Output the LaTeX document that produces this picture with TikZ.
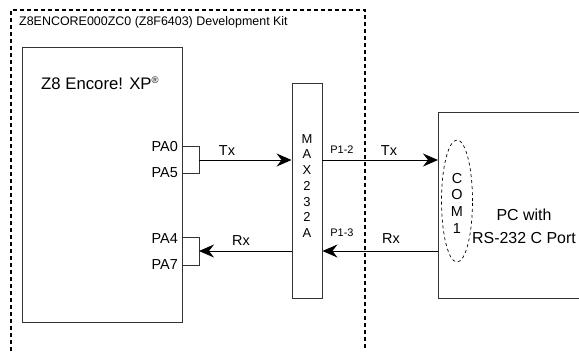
\documentclass[tikz,border=0pt]{standalone}
\usepackage{fontspec}
\setmainfont{Liberation Sans}
\usetikzlibrary{arrows.meta,shapes.geometric}
\begin{document}
\begin{tikzpicture}[x=1bp,y=-1bp,
  box/.style={draw=black!80,line width=0.9bp},
  frame/.style={draw=black,line width=1.1bp,dash pattern=on 4bp off 3bp},
  wire/.style={draw=black!80,line width=0.9bp},
  sig/.style={draw=black,line width=1bp,-{Stealth[length=15bp,width=13bp,inset=5bp]}},
  lbl/.style={inner sep=0pt,font=\fontsize{14.5}{16}\selectfont},
  small/.style={inner sep=0pt,font=\fontsize{11}{12}\selectfont},
  stack/.style={inner sep=0pt,font=\fontsize{13}{15.8}\selectfont,align=center}]
\useasboundingbox (0,0) rectangle (579,351);
% dashed development kit frame
\draw[frame] (11,351) -- (11,10) -- (365,10) -- (365,351);
\node[small,anchor=west,font=\fontsize{12.5}{14}\selectfont] (title) at (19,22) {Z8ENCORE000ZC0 (Z8F6403) Development Kit};
% Z8 box
\draw[box] (22,47) rectangle (182,322);
\node[lbl,anchor=west,font=\fontsize{16.8}{18}\selectfont] (z8) at (41,83) {Z8 Encore! XP\textsuperscript{\fontsize{9.5}{10}\selectfont ®}};
\node[lbl,anchor=east] (pa0) at (178,147) {PA0};
\node[lbl,anchor=east] (pa5) at (178,173) {PA5};
\node[lbl,anchor=east] (pa4) at (178,239) {PA4};
\node[lbl,anchor=east] (pa7) at (178,265) {PA7};
% brackets
\coordinate (b0) at (182,146);
\coordinate (b5) at (182,173);
\coordinate (b4) at (182,237);
\coordinate (b7) at (182,265);
\draw[wire] (b0) -| (199,173) -- (b5);
\draw[wire] (b4) -| (199,265) -- (b7);
\coordinate (txl) at (199,160);
\coordinate (rxl) at (199,251);
% MAX232A
\node[box,minimum width=30bp,minimum height=215bp,inner sep=0pt] (max) at (307,190.5) {};
\node[stack] (maxt) at (307,186) {M\\A\\X\\2\\3\\2\\A};
% PC box
\draw[box] (579,112) -- (438,112) -- (438,298) -- (579,298);
\coordinate (pctx) at (438,160);
\coordinate (pcrx) at (438,251);
\node[draw,dashed,line width=0.7bp,ellipse,minimum width=31bp,minimum height=122bp,inner sep=0pt] (com) at (457,201) {};
\node[stack,font=\fontsize{14.5}{16.7}\selectfont] (comt) at (457,203) {C\\O\\M\\1};
\node[lbl,align=center,font=\fontsize{16}{23}\selectfont] (pc) at (524,226) {PC with\\RS-232 C Port};
% signals
\draw[sig] (txl) -- (max.west |- txl);
\draw[sig] (max.west |- rxl) -- (rxl);
\draw[sig] (max.east |- pctx) -- (pctx);
\draw[sig] (pcrx) -- (max.east |- pcrx);
\node[lbl] (tx1) at (227,151) {Tx};
\node[lbl] (rx1) at (241,241) {Rx};
\node[lbl] (tx2) at (389,151) {Tx};
\node[lbl] (rx2) at (391,239) {Rx};
\node[small] (p12) at (342,150) {P1-2};
\node[small] (p13) at (342,233) {P1-3};
\end{tikzpicture}
\end{document}
